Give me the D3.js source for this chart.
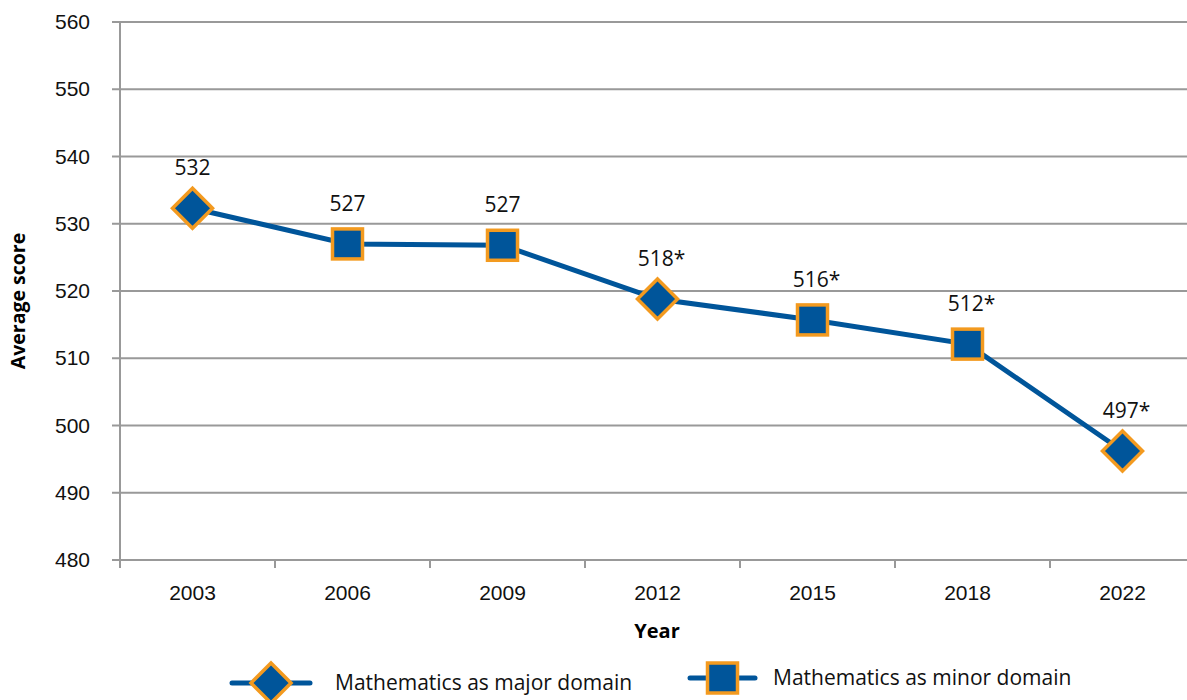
<!DOCTYPE html>
<html>
<head>
<meta charset="utf-8">
<script src="https://cdn.jsdelivr.net/npm/d3@7"></script>
<style>
  body { margin: 0; background: #fff; }
  svg { display: block; font-family: "Open Sans", sans-serif; }
</style>
</head>
<body>
<div id="chart"></div>
<script>
const years = ['2003', '2006', '2009', '2012', '2015', '2018', '2022'];
const scores = [532.3, 527.0, 526.8, 518.8, 515.7, 512.1, 496.2];
const labels = ['532', '527', '527', '518*', '516*', '512*', '497*'];
const domainType = ['major', 'minor', 'minor', 'major', 'minor', 'minor', 'major'];
const yTicks = [480, 490, 500, 510, 520, 530, 540, 550, 560];
const legendItems = [
  { type: 'major', text: 'Mathematics as major domain' },
  { type: 'minor', text: 'Mathematics as minor domain' }
];

const W = 1187, H = 700;
const margin = { left: 120, top: 22, bottom: 140 };
const lineColor = '#00559A', fillColor = '#00559A', edge = '#F39A1F', grid = '#999';

const svg = d3.select('#chart').append('svg').attr('width', W).attr('height', H);

const x = d3.scaleBand().domain(years).range([margin.left, margin.left + 155 * years.length]);
const y = d3.scaleLinear().domain([480, 560]).range([H - margin.bottom, margin.top]);
const cx = d => x(d) + x.bandwidth() / 2 - 5;

// gridlines
svg.append('g').selectAll('line').data(yTicks).enter().append('line')
  .attr('x1', margin.left - 8).attr('x2', W)
  .attr('y1', d => y(d)).attr('y2', d => y(d))
  .attr('stroke', grid).attr('stroke-width', 2);

// y axis
const yAxis = svg.append('g').attr('transform', `translate(${margin.left},0)`)
  .call(d3.axisLeft(y).tickValues(yTicks).tickSize(0).tickPadding(30));
yAxis.select('.domain').remove();
yAxis.selectAll('text').style('font-size', '21px').attr('fill', '#111');
svg.append('line').attr('x1', margin.left).attr('x2', margin.left)
  .attr('y1', y(560)).attr('y2', y(480) + 8).attr('stroke', grid).attr('stroke-width', 2);

// x axis
const xAxis = svg.append('g').attr('transform', `translate(0,${y(480)})`)
  .call(d3.axisBottom(x).tickSize(0).tickPadding(25));
xAxis.select('.domain').remove();
xAxis.selectAll('.tick').attr('transform', d => `translate(${cx(d)},0)`);
xAxis.selectAll('text').style('font-size', '21px').attr('fill', '#111');
const edges = d3.range(years.length + 1).map(i => margin.left + i * x.step());
xAxis.selectAll('.sep').data(edges).enter().append('line')
  .attr('x1', d => d).attr('x2', d => d).attr('y1', 0).attr('y2', 8)
  .attr('stroke', grid).attr('stroke-width', 2);

// axis titles
svg.append('text').attr('transform', `translate(25,${(y(480) + y(560)) / 2 + 10}) rotate(-90)`)
  .attr('text-anchor', 'middle').style('font-size', '19.5px').style('font-weight', 'bold')
  .text('Average score');
svg.append('text').attr('x', 657).attr('y', 638)
  .attr('text-anchor', 'middle').style('font-size', '20px').style('font-weight', 'bold')
  .text('Year');

// line
const line = d3.line().x((d, i) => cx(years[i])).y(d => y(d));
svg.append('path').datum(scores).attr('d', line)
  .attr('fill', 'none').attr('stroke', lineColor).attr('stroke-width', 5);

function marker(g, type) {
  if (type === 'major') {
    g.append('path').attr('d', 'M0,-20L20,0L0,20L-20,0Z')
      .attr('fill', fillColor).attr('stroke', edge).attr('stroke-width', 3.5);
  } else {
    g.append('rect').attr('x', -15).attr('y', -15).attr('width', 30).attr('height', 30)
      .attr('fill', fillColor).attr('stroke', edge).attr('stroke-width', 3.5);
  }
}

const pts = svg.append('g').selectAll('g').data(scores).enter().append('g')
  .attr('transform', (d, i) => `translate(${cx(years[i])},${y(d)})`);
pts.each(function(d, i) { marker(d3.select(this), domainType[i]); });

// data labels
svg.append('g').selectAll('text').data(scores).enter().append('text')
  .attr('x', (d, i) => cx(years[i]) + (labels[i].includes('*') ? 4 : 0))
  .attr('y', d => y(d) - 33)
  .attr('text-anchor', 'middle').style('font-size', '21px').attr('fill', '#111')
  .text((d, i) => labels[i]);

// legend
const legendPos = [{ x: 232, y: 683 }, { x: 690, y: 678 }];
legendItems.forEach((item, i) => {
  const p = legendPos[i];
  const g = svg.append('g').attr('transform', `translate(${p.x},${p.y})`);
  const len = item.type === 'major' ? 78 : 65;
  g.append('line').attr('x1', 0).attr('x2', len).attr('y1', 0).attr('y2', 0)
    .attr('stroke', lineColor).attr('stroke-width', 5).attr('stroke-linecap', 'round');
  const m = g.append('g').attr('transform', `translate(${len / 2},0)`);
  marker(m, item.type);
  g.append('text').attr('x', item.type === 'major' ? 103 : 83).attr('y', 7)
    .style('font-size', '21px').attr('fill', '#111').text(item.text);
});
</script>
</body>
</html>
